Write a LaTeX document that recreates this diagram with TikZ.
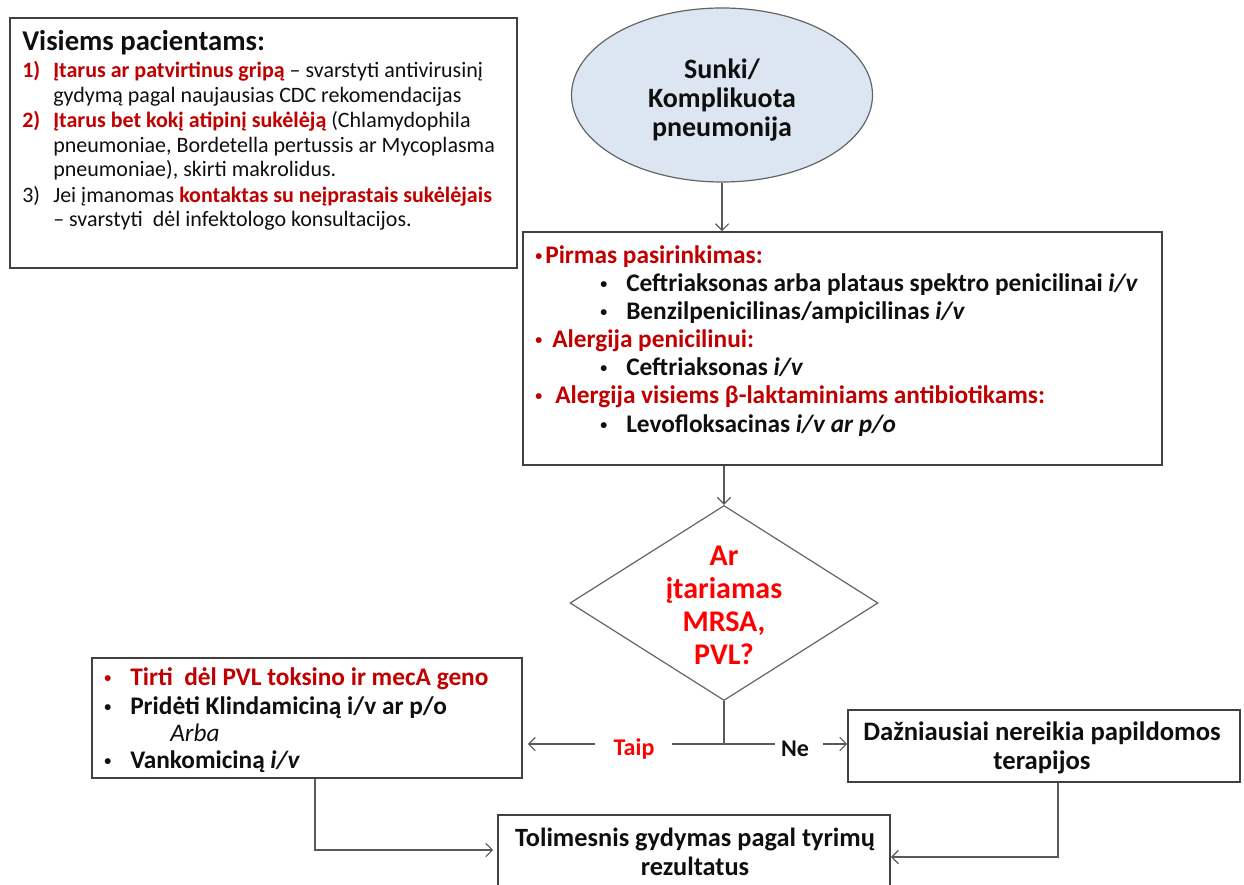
\documentclass[tikz,border=0pt]{standalone}
\usepackage{fontspec}
\setmainfont{Carlito}
\usetikzlibrary{shapes.geometric,arrows.meta,fit}
\definecolor{dred}{RGB}{192,0,0}
\definecolor{bred}{RGB}{255,0,0}
\definecolor{boxgray}{RGB}{64,64,64}
\definecolor{shapegray}{RGB}{100,100,100}
\definecolor{linegray}{RGB}{89,89,89}
\definecolor{txtblack}{RGB}{15,15,15}
\definecolor{ellfill}{RGB}{220,230,242}
\newcommand\mybul{\raisebox{0.09em}{\scalebox{0.55}{•}}}
\tikzset{
  box/.style={draw=boxgray, line width=1.2pt, inner sep=0pt},
  arr/.style={draw=linegray, line width=0.9pt, -{Straight Barb[length=5pt,width=10pt,line width=0.9pt]}},
  conn/.style={draw=linegray, line width=0.9pt},
  tl/.style={inner sep=0pt, anchor=base west, text=txtblack},
  body/.style={font=\fontsize{16.5pt}{18.6pt}\selectfont},
  bbold/.style={font=\fontsize{19pt}{21pt}\selectfont\bfseries},
  cbold/.style={inner sep=0pt, align=center, text=txtblack, font=\fontsize{19.75pt}{21.75pt}\selectfont\bfseries},
}
\begin{document}
\begin{tikzpicture}[x=0.75pt,y=-0.75pt]
\useasboundingbox (0,0) rectangle (1244,884);
\clip (0,0) rectangle (1244,884);

% ---------- left info box ----------
\node[box, fit={(10,18) (517,268)}] (info) {};
\node[tl, font=\fontsize{21.5pt}{24pt}\selectfont\bfseries] (title) at (22,51) {Visiems pacientams:};
\node[tl, body] (i1a) at (22,78) {\makebox[23.25pt][l]{\textcolor{dred}{\bfseries 1)}}\textcolor{dred}{\bfseries Įtarus ar patvirtinus gripą} – svarstyti antivirusinį};
\node[tl, body] (i1b) at (53,103) {gydymą pagal naujausias CDC rekomendacijas};
\node[tl, body] (i2a) at (22,128) {\makebox[23.25pt][l]{\textcolor{dred}{\bfseries 2)}}\textcolor{dred}{\bfseries Įtarus bet kokį atipinį sukėlėją} (Chlamydophila};
\node[tl, body] (i2b) at (53,153) {pneumoniae, Bordetella pertussis ar Mycoplasma};
\node[tl, body] (i2c) at (53,177) {pneumoniae), skirti makrolidus.};
\node[tl, body] (i3a) at (22,203) {\makebox[23.25pt][l]{3)}Jei įmanomas \textcolor{dred}{\bfseries kontaktas su neįprastais sukėlėjais}};
\node[tl, body] (i3b) at (53,227) {– svarstyti\ \ dėl infektologo konsultacijos.};

% ---------- ellipse ----------
\node[ellipse, draw=shapegray, fill=ellfill, line width=0.9pt, inner sep=0pt,
      minimum width=301*0.75pt, minimum height=174*0.75pt] (sev) at (722,95) {};
\node[cbold, font=\fontsize{21pt}{21.5pt}\selectfont\bfseries] (sevtext) at (722,100) {Sunki/\\Komplikuota\\pneumonija};

% ---------- first choice box ----------
\node[box, fit={(523,232) (1162,465)}] (first) {};
\node[tl, bbold, text=dred] (p1) at (535,263) {\makebox[7.5pt][l]{\mybul}Pirmas pasirinkimas:};
\node[tl, bbold] (p1a) at (600,291) {\makebox[19.5pt][l]{\mybul}Ceftriaksonas arba plataus spektro penicilinai \textit{i/v}};
\node[tl, bbold] (p1b) at (600,319) {\makebox[19.5pt][l]{\mybul}Benzilpenicilinas/ampicilinas \textit{i/v}};
\node[tl, bbold, text=dred] (p2) at (535,347) {\makebox[12.75pt][l]{\mybul}Alergija penicilinui:};
\node[tl, bbold] (p2a) at (600,375) {\makebox[19.5pt][l]{\mybul}Ceftriaksonas \textit{i/v}};
\node[tl, bbold, text=dred] (p3) at (535,403) {\makebox[15pt][l]{\mybul}Alergija visiems β-laktaminiams antibiotikams:};
\node[tl, bbold] (p3a) at (600,432) {\makebox[19.5pt][l]{\mybul}Levofloksacinas \textit{i/v ar p/o}};

% ---------- decision ----------
\node[diamond, draw=shapegray, line width=0.9pt, inner sep=0pt,
      minimum width=308*0.75pt, minimum height=195*0.75pt] (q) at (724,603) {};
\node[cbold, text=bred, font=\fontsize{22.5pt}{24.75pt}\selectfont\bfseries] (qtext) at (724,605) {Ar\\įtariamas\\MRSA,\\PVL?};

% ---------- yes box ----------
\node[box, fit={(92,658) (522,778)}] (mrsa) {};
\node[tl, bbold] (m1) at (104,685) {\makebox[19.5pt][l]{\textcolor{dred}{\mybul}}\textcolor{dred}{Tirti\ \ dėl PVL toksino ir mecA geno}};
\node[tl, bbold] (m2) at (104,714) {\makebox[19.5pt][l]{\mybul}Pridėti Klindamiciną i/v ar p/o};
\node[tl, font=\fontsize{19pt}{21pt}\selectfont\itshape] (m3) at (170,741) {Arba};
\node[tl, bbold] (m4) at (104,768) {\makebox[19.5pt][l]{\mybul}Vankomiciną \textit{i/v}};

% ---------- no box ----------
\node[box, fit={(848,710) (1240,782)}] (no) {};
\node[cbold, font=\fontsize{20pt}{21.75pt}\selectfont\bfseries] (notext) at (1042,748) {Dažniausiai nereikia papildomos\\terapijos};

% ---------- next box ----------
\node[box, fit={(498,815) (890,900)}] (next) {};
\node[cbold] (nexttext) at (695,852) {Tolimesnis gydymas pagal tyrimų\\rezultatus};

% ---------- labels ----------
\node[inner sep=0pt, text=bred, font=\fontsize{18pt}{20pt}\selectfont\bfseries] (taip) at (634,749) {Taip};
\node[inner sep=0pt, text=txtblack, font=\fontsize{18pt}{20pt}\selectfont\bfseries] (ne) at (795,749) {Ne};

% ---------- connectors ----------
\draw[arr] (sev.south) -- (sev.south |- first.north);
\draw[arr] (q.north |- first.south) -- (q.north);
\coordinate (j) at (724,744);
\coordinate (tr) at (672,744);
\coordinate (nl) at (775,744);
\coordinate (ta) at (595,744);
\coordinate (na) at (823,744);
\draw[conn] (q.south) -- (j);
\draw[conn] (tr) -- (nl);
\draw[arr, shorten >=3.75pt] (ta) -- (mrsa.east |- ta);
\draw[arr] (na) -- (no.west |- na);
\coordinate (lc) at (315,850);
\draw[arr, shorten >=3pt] (mrsa.south -| lc) |- (next.west |- lc);
\coordinate (rc) at (1058,857);
\draw[arr] (no.south -| rc) |- (next.east |- rc);
\end{tikzpicture}
\end{document}
